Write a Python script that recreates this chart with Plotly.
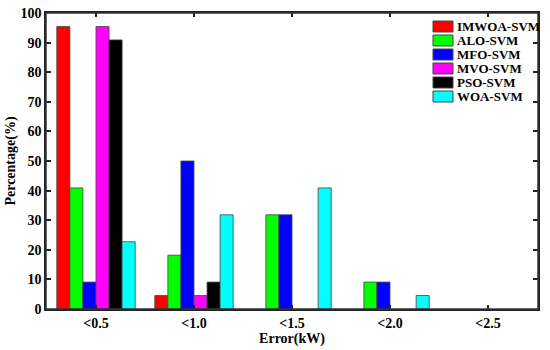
import plotly.graph_objects as go

categories = ["<0.5", "<1.0", "<1.5", "<2.0", "<2.5"]
series_names = ["IMWOA-SVM", "ALO-SVM", "MFO-SVM", "MVO-SVM", "PSO-SVM", "WOA-SVM"]
imwoa = [95.45, 4.55, 0, 0, 0]
alo = [40.91, 18.18, 31.82, 9.09, 0]
mfo = [9.09, 50.0, 31.82, 9.09, 0]
mvo = [95.45, 4.55, 0, 0, 0]
pso = [90.91, 9.09, 0, 0, 0]
woa = [22.73, 31.82, 40.91, 4.55, 0]
colors = ["#ff0000", "#00ff00", "#0000ff", "#ff00ff", "#000000", "#00ffff"]
y_ticks = [0, 10, 20, 30, 40, 50, 60, 70, 80, 90, 100]

values = [imwoa, alo, mfo, mvo, pso, woa]
font_family = "Liberation Serif"

W, H = 550, 350
PL, PR, PT, PB = 46, 538, 13, 309  # plot area in window pixels
PW, PH = PR - PL, PB - PT


def px(sx):
    return (sx - PL) / PW


def py(sy):
    return 1 - (sy - PT) / PH


fig = go.Figure()
for name, vals, c in zip(series_names, values, colors):
    fig.add_trace(go.Bar(
        x=categories, y=vals, name=name,
        marker=dict(color=c,
                    line=dict(color="#444444", width=[0.8 if v > 0 else 0 for v in vals])),
        showlegend=False,
    ))

shapes = [dict(type="rect", xref="paper", yref="paper", x0=0, x1=1, y0=0, y1=1,
               line=dict(color="#333333", width=1.5), fillcolor="rgba(0,0,0,0)", layer="above")]
annotations = []
for i, (name, c) in enumerate(zip(series_names, colors)):
    y0 = 21 + i * 14
    shapes.append(dict(type="rect", xref="paper", yref="paper",
                       x0=px(433), x1=px(453), y0=py(y0 + 11), y1=py(y0),
                       fillcolor=c, line=dict(color="#444444", width=1)))
    annotations.append(dict(xref="paper", yref="paper",
                            x=px(455), y=py(y0 + 5.5),
                            xanchor="left", yanchor="middle", showarrow=False,
                            text="<b>" + name + "</b>",
                            font=dict(family=font_family, size=13, color="black")))

fig.update_layout(
    width=W, height=H,
    margin=dict(l=PL, r=W - PR, t=PT, b=H - PB, pad=0),
    paper_bgcolor="white", plot_bgcolor="white",
    barmode="group", bargap=0.2, bargroupgap=0,
    font=dict(family=font_family, size=14, color="black"),
    showlegend=False,
    shapes=shapes, annotations=annotations,
    xaxis=dict(
        type="category", range=[-0.51, 4.51], automargin=False,
        showline=True, linecolor="#222222", linewidth=1.5, mirror="allticks",
        ticks="inside", ticklen=4, tickcolor="#222222", tickwidth=1.5,
        tickfont=dict(family=font_family, size=14, color="black", weight="bold"),
        ticklabeloverflow="allow",
        title=dict(text="<b>Error(kW)</b>", font=dict(family=font_family, size=14), standoff=4),
        showgrid=False,
    ),
    yaxis=dict(
        range=[0, 100], tickvals=y_ticks, automargin=False,
        showline=True, linecolor="#222222", linewidth=1.5, mirror="allticks",
        ticks="inside", ticklen=5, tickcolor="#222222", tickwidth=1.5,
        tickfont=dict(family=font_family, size=14, color="black", weight="bold"),
        ticklabeloverflow="allow",
        title=dict(text="<b>Percentage(%)</b>", font=dict(family=font_family, size=14), standoff=2),
        showgrid=False, zeroline=False,
    ),
)

fig.write_html("out.html", config={"displayModeBar": False},
               post_script="document.body.style.margin='0';")
